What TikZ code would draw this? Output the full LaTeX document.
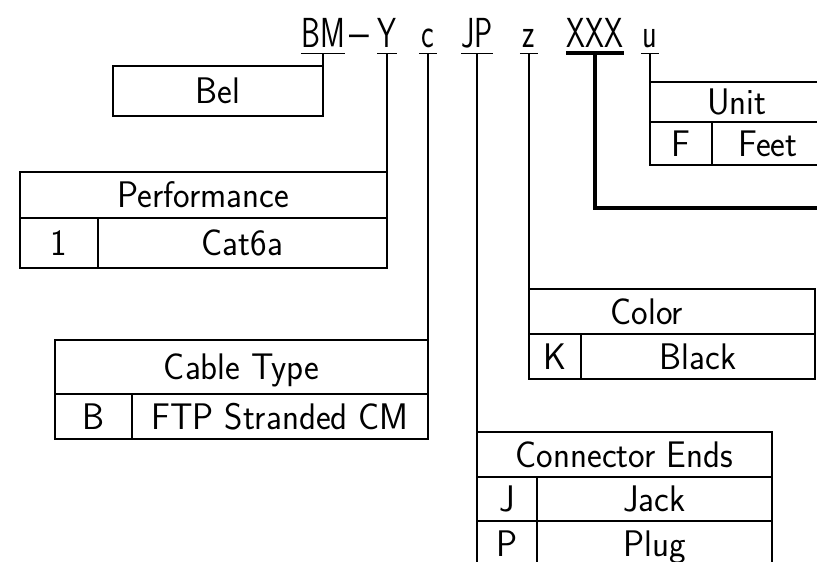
\documentclass[tikz,border=0pt]{standalone}
\usepackage{graphicx}
\usepackage{tikz}

\newcommand{\nt}[1]{\scalebox{0.95}[1]{#1}}
\newcommand{\ct}[1]{\scalebox{0.72}[1]{#1}}

\begin{document}
\begin{tikzpicture}[x=1pt,y=-1pt,
    cell/.style={draw,line width=1.4pt,outer sep=0pt,inner sep=0pt,
      font=\sffamily\fontsize{37}{37}\selectfont,text height=25.7pt,text depth=0pt},
    code/.style={font=\sffamily\fontsize{42}{42}\selectfont,inner sep=0pt,
      anchor=base,text depth=6pt,minimum width=18pt},
    uline/.style={line width=1.4pt},
    wide/.style={line width=3.6pt}]
    \useasboundingbox (0,0) rectangle (817,562);

    % part number
    \node[code] (cBM) at (323,47) {\ct{BM}};
    \node[code] (cdash) at (359,47) {\textendash};
    \node[code] (cY) at (387,47) {\ct{Y}};
    \node[code] (cc) at (428,47) {\ct{c}};
    \node[code] (cJP) at (477,47) {\ct{JP}};
    \node[code] (cz) at (529,47) {\ct{z}};
    \node[code] (cX) at (595,47) {\ct{XXX}};
    \node[code] (cu) at (650,47) {\ct{u}};

    % Bel
    \node[cell,minimum width=210,minimum height=50] (bel) at (218,91) {\nt{Bel}};

    % performance
    \node[cell,minimum width=367,minimum height=46] (perf) at (203.5,195) {\nt{Performance}};
    \node[cell,minimum width=78,minimum height=50,anchor=north west] (perfa) at (perf.south west) {\nt{1}};
    \node[cell,minimum width=289,minimum height=50,anchor=north west] (perfb) at (perfa.north east) {\nt{Cat6a}};

    % cable type
    \node[cell,minimum width=373,minimum height=54] (cable) at (241.5,367) {\nt{Cable Type}};
    \node[cell,minimum width=77,minimum height=45,anchor=north west] (cablea) at (cable.south west) {\nt{B}};
    \node[cell,minimum width=296,minimum height=45,anchor=north west] (cableb) at (cablea.north east) {\nt{FTP Stranded CM}};

    % color
    \node[cell,minimum width=286,minimum height=45] (color) at (672,311.5) {};
    \node[cell,draw=none] (colorlbl) at (647,311.5) {\nt{Color}};
    \node[cell,minimum width=52,minimum height=45,anchor=north west] (colora) at (color.south west) {\nt{K}};
    \node[cell,minimum width=234,minimum height=45,anchor=north west] (colorb) at (colora.north east) {\nt{Black}};

    % connector ends
    \node[cell,minimum width=295,minimum height=45] (conn) at (624.5,454.5) {\nt{Connector Ends}};
    \node[cell,minimum width=60,minimum height=44,anchor=north west] (conna) at (conn.south west) {\nt{J}};
    \node[cell,minimum width=235,minimum height=44,anchor=north west] (connb) at (conna.north east) {\nt{Jack}};
    \node[cell,minimum width=60,minimum height=45,anchor=north west] (connc) at (conna.south west) {\nt{P}};
    \node[cell,minimum width=235,minimum height=45,anchor=north west] (connd) at (connc.north east) {\nt{Plug}};

    % unit
    \node[cell,minimum width=174,minimum height=40] (unit) at (737,102) {\nt{Unit}};
    \node[cell,minimum width=62,minimum height=43,anchor=north west] (unita) at (unit.south west) {\nt{F}};
    \node[cell,minimum width=112,minimum height=43,anchor=north west] (unitb) at (unita.north east) {\nt{Feet}};

    % underlines and leaders
    \foreach \c in {cBM,cY,cc,cJP,cz,cu}
      \draw[uline] (\c.south west) -- (\c.south east);
    \draw[uline] (cBM.south) -- (bel.north east);
    \draw[uline] (cY.south) -- (perf.north east);
    \draw[uline] (cc.south) -- (cable.north east);
    \draw[uline] (cJP.south) -- (conn.north west);
    \draw[uline] (cz.south) -- (color.north west);
    \draw[uline] (cu.south) -- (unit.north west);

    \coordinate (lenend) at (830,208);
    \draw[wide] (cX.south west) -- (cX.south east);
    \draw[wide] (cX.south) |- (lenend);
\end{tikzpicture}
\end{document}
